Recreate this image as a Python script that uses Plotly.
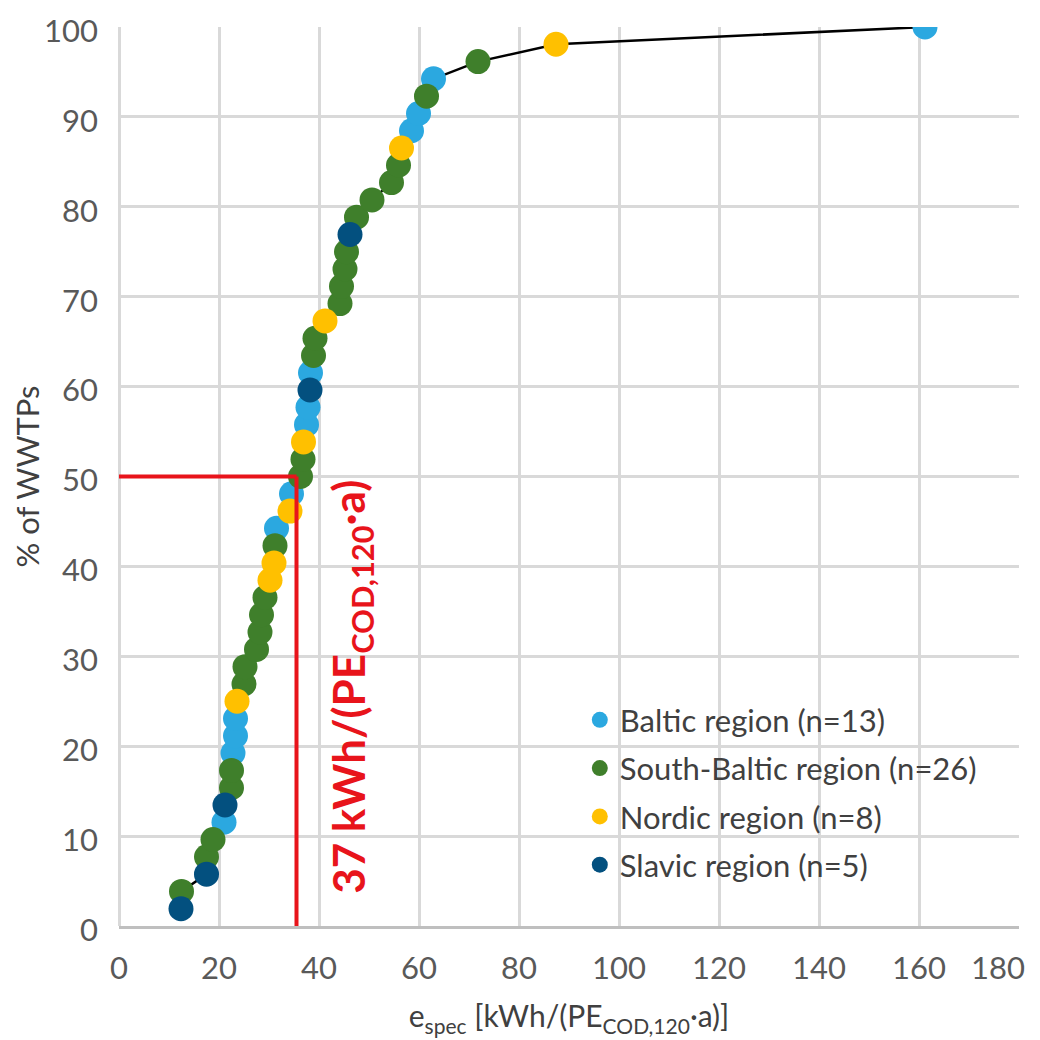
import plotly.graph_objects as go

# ---- data ----
e_spec = [12.4, 12.5, 17.5, 17.5, 18.8, 21.0, 21.2, 22.5, 22.5, 22.8,
          23.3, 23.3, 23.6, 25.0, 25.2, 27.5, 28.2, 28.5, 29.2, 30.2,
          31.0, 31.2, 31.5, 34.2, 34.5, 36.3, 36.8, 36.9, 37.5, 37.8,
          38.2, 38.3, 38.9, 39.2, 41.2, 44.2, 44.5, 45.2, 45.5, 46.2,
          47.5, 50.6, 54.5, 55.9, 56.5, 58.5, 59.9, 61.5, 62.9, 71.8,
          87.4, 161.2]
pct_wwtps = [1.92, 3.85, 5.77, 7.69, 9.62, 11.54, 13.46, 15.38, 17.31, 19.23,
             21.15, 23.08, 25.00, 26.92, 28.85, 30.77, 32.69, 34.62, 36.54, 38.46,
             40.38, 42.31, 44.23, 46.15, 48.08, 50.00, 51.92, 53.85, 55.77, 57.69,
             59.62, 61.54, 63.46, 65.38, 67.31, 69.23, 71.15, 73.08, 75.00, 76.92,
             78.85, 80.77, 82.69, 84.62, 86.54, 88.46, 90.38, 92.31, 94.23, 96.15,
             98.08, 100.0]
region = ["S", "SB", "S", "SB", "SB", "B", "S", "SB", "SB", "B",
          "B", "B", "N", "SB", "SB", "SB", "SB", "SB", "SB", "N",
          "N", "SB", "B", "N", "B", "SB", "SB", "N", "B", "B",
          "S", "B", "SB", "SB", "N", "SB", "SB", "SB", "SB", "S",
          "SB", "SB", "SB", "SB", "N", "B", "B", "SB", "B", "SB",
          "N", "B"]
region_codes = ["B", "SB", "N", "S"]
region_names = ["Baltic region (n=13)", "South-Baltic region (n=26)",
                "Nordic region (n=8)", "Slavic region (n=5)"]
region_colors = ["#2BA8E0", "#3F7F2B", "#FFC000", "#03507F"]
median_e = 35.5
median_pct = 50
x_ticks = [0, 20, 40, 60, 80, 100, 120, 140, 160, 180]
y_ticks = [0, 10, 20, 30, 40, 50, 60, 70, 80, 90, 100]

FONT = "Lato, 'Open Sans', sans-serif"
RED = "#E8141B"
TICKFONT = dict(family=FONT, size=31, color="#595959")

fig = go.Figure()
fig.add_trace(go.Scatter(x=e_spec, y=pct_wwtps, mode="lines",
                         line=dict(color="black", width=2.5),
                         showlegend=False, hoverinfo="skip"))
for code, name, col in zip(region_codes, region_names, region_colors):
    xs = [x for x, r in zip(e_spec, region) if r == code]
    ys = [y for y, r in zip(pct_wwtps, region) if r == code]
    fig.add_trace(go.Scatter(x=xs, y=ys, mode="markers", name=name,
                             legendgroup=code,
                             marker=dict(color=col, size=25, line=dict(width=0))))

# median lines
fig.add_shape(type="line", x0=0, x1=median_e, y0=median_pct, y1=median_pct,
              line=dict(color=RED, width=4))
fig.add_shape(type="line", x0=median_e, x1=median_e, y0=0, y1=median_pct,
              line=dict(color=RED, width=4))
fig.add_annotation(x=46.6, y=26.6, xref="x", yref="y",
                   text="<b>37 kWh/(PE<sub>COD,120</sub>·a)</b>",
                   textangle=-90, showarrow=False,
                   font=dict(family=FONT, size=44, color=RED))

# last x tick label is pulled inward (as in the original) so it stays on the page
x_ticktext = [str(v) for v in x_ticks[:-1]] + [""]
fig.add_annotation(x=x_ticks[-1], y=-0.0456, xref="x", yref="paper",
                   text=str(x_ticks[-1]), showarrow=False,
                   xanchor="right", yanchor="middle", xshift=8,
                   font=TICKFONT)

axis_common = dict(showgrid=True, gridcolor="#D9D9D9", gridwidth=2.5,
                   zeroline=True, zerolinecolor="#D9D9D9", zerolinewidth=2.5,
                   ticks="", automargin=False, ticklabeloverflow="allow",
                   tickfont=TICKFONT)
fig.update_xaxes(range=[0, 180], tickvals=x_ticks, ticktext=x_ticktext,
                 title=dict(text="e<sub>spec</sub> [kWh/(PE<sub>COD,120</sub>·a)]",
                            font=dict(family=FONT, size=30, color="#404040"),
                            standoff=22),
                 showline=True, linecolor="#BFBFBF", linewidth=2.5,
                 ticklabelstandoff=13, **axis_common)
fig.update_yaxes(range=[0, 100], tickvals=y_ticks,
                 title=dict(text="% of WWTPs",
                            font=dict(family=FONT, size=31, color="#404040"),
                            standoff=13),
                 ticklabelstandoff=20, ticklabelshift=4, **axis_common)

# the page body adds an 8 px offset, so margins compensate
fig.update_layout(
    width=1040, height=1040,
    margin=dict(l=111, r=29, t=19, b=122),
    plot_bgcolor="white", paper_bgcolor="white",
    font=dict(family=FONT, color="#404040"),
    legend=dict(x=0.512, y=0.259, xanchor="left", yanchor="top",
                bgcolor="rgba(0,0,0,0)", tracegroupgap=5,
                font=dict(family=FONT, size=31, color="#404040")),
)

fig.write_html("out.html")
